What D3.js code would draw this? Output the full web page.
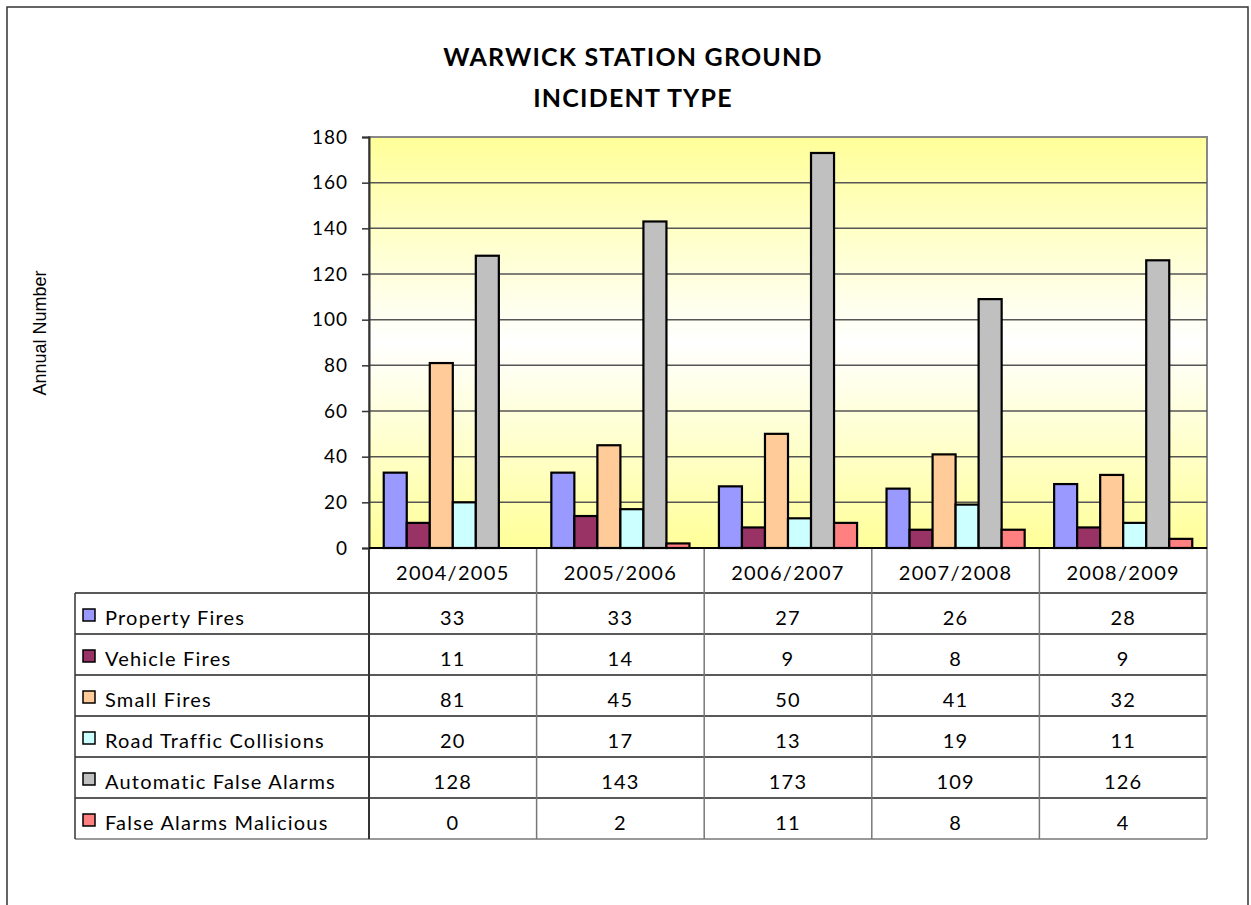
<!DOCTYPE html>
<html>
<head>
<meta charset="utf-8">
<script src="https://cdn.jsdelivr.net/npm/d3@7"></script>
<style>
  body { margin: 0; background: #fff; }
  text { font-family: Lato, "Open Sans", sans-serif; fill: #000; }
</style>
</head>
<body>
<div id="chart"></div>
<script>
var years = ["2004/2005", "2005/2006", "2006/2007", "2007/2008", "2008/2009"];
var seriesNames = ["Property Fires", "Vehicle Fires", "Small Fires", "Road Traffic Collisions", "Automatic False Alarms", "False Alarms Malicious"];
var propertyFires = [33, 33, 27, 26, 28];
var vehicleFires = [11, 14, 9, 8, 9];
var smallFires = [81, 45, 50, 41, 32];
var roadTraffic = [20, 17, 13, 19, 11];
var autoAlarms = [128, 143, 173, 109, 126];
var maliciousAlarms = [0, 2, 11, 8, 4];
var yTicks = [0, 20, 40, 60, 80, 100, 120, 140, 160, 180];
var colors = ["#9999FF", "#993366", "#FFCC99", "#CCFFFF", "#C0C0C0", "#FF8080"];

var values = [propertyFires, vehicleFires, smallFires, roadTraffic, autoAlarms, maliciousAlarms];

var W = 1251, H = 905;
var plot = { left: 369, right: 1207, top: 137, bottom: 548 };
var tableLeft = 75, headH = 45, rowH = 41;

var svg = d3.select("#chart").append("svg")
    .attr("width", W).attr("height", H);

// outer frame
svg.append("rect").attr("x", 7).attr("y", 7).attr("width", 1241).attr("height", H)
    .attr("fill", "none").attr("stroke", "#333").attr("stroke-width", 1.5);

// title
svg.append("text").attr("x", 633).attr("y", 66).attr("text-anchor", "middle")
    .style("font-weight", "bold").style("font-size", "25px").style("letter-spacing", "1.2px")
    .text("WARWICK STATION GROUND");
svg.append("text").attr("x", 633).attr("y", 107).attr("text-anchor", "middle")
    .style("font-weight", "bold").style("font-size", "25px").style("letter-spacing", "1.2px")
    .text("INCIDENT TYPE");

// gradient background
var grad = svg.append("defs").append("linearGradient").attr("id", "bg")
    .attr("x1", 0).attr("y1", 0).attr("x2", 0).attr("y2", 1);
grad.append("stop").attr("offset", "0%").attr("stop-color", "#FFFF99");
grad.append("stop").attr("offset", "50%").attr("stop-color", "#FFFFFF");
grad.append("stop").attr("offset", "100%").attr("stop-color", "#FFFF99");

svg.append("rect").attr("x", plot.left).attr("y", plot.top)
    .attr("width", plot.right - plot.left).attr("height", plot.bottom - plot.top)
    .attr("fill", "url(#bg)").attr("stroke", "#888").attr("stroke-width", 2);

var x = d3.scaleBand().domain(years).range([plot.left, plot.right]);
var xi = d3.scaleBand().domain(d3.range(seriesNames.length)).range([0, x.bandwidth()])
    .paddingOuter(0.64);
var y = d3.scaleLinear().domain([0, 180]).range([plot.bottom, plot.top]);

// gridlines
svg.append("g").selectAll("line").data(yTicks.slice(1, -1)).enter().append("line")
    .attr("x1", plot.left).attr("x2", plot.right)
    .attr("y1", function (d) { return y(d); }).attr("y2", function (d) { return y(d); })
    .attr("stroke", "#555").attr("stroke-width", 1.5);

// bars
var groups = svg.append("g").selectAll("g").data(values).enter().append("g")
    .attr("fill", function (d, i) { return colors[i]; });
groups.each(function (series, si) {
    d3.select(this).selectAll("rect").data(series).enter().append("rect")
        .attr("x", function (d, i) { return x(years[i]) + xi(si); })
        .attr("y", function (d) { return y(d); })
        .attr("width", xi.bandwidth())
        .attr("height", function (d) { return plot.bottom - y(d); })
        .attr("stroke", "#000").attr("stroke-width", 2.2)
        .style("display", function (d) { return d > 0 ? null : "none"; });
});

// y axis
var yAxis = d3.axisLeft(y).tickValues(yTicks).tickSize(7).tickPadding(14);
var ya = svg.append("g").attr("transform", "translate(" + plot.left + ",0)").call(yAxis);
ya.select(".domain").attr("stroke", "#333").attr("stroke-width", 2);
ya.selectAll(".tick line").attr("stroke", "#333").attr("stroke-width", 1.5);
ya.selectAll(".tick text").style("font-size", "19px").style("letter-spacing", "1px")
    .attr("font-family", null);

svg.append("text")
    .attr("transform", "translate(46,333) rotate(-90)")
    .attr("text-anchor", "middle")
    .style("font-family", "'Liberation Sans', Arial, sans-serif").style("font-size", "18px")
    .text("Annual Number");

// data table
var tableBottom = plot.bottom + headH + rowH * seriesNames.length;
var tbl = svg.append("g");

// horizontal lines
var hLines = d3.range(seriesNames.length + 1).map(function (i) { return plot.bottom + headH + i * rowH; });
tbl.selectAll("line.h").data(hLines).enter().append("line").attr("class", "h")
    .attr("x1", tableLeft).attr("x2", plot.right)
    .attr("y1", function (d) { return d; }).attr("y2", function (d) { return d; })
    .attr("stroke", function (d, i) { return i === seriesNames.length ? "#777" : "#222"; })
    .attr("stroke-width", 1.5);

// vertical lines
var vLines = years.map(function (d) { return x(d); }).concat([plot.right]);
tbl.selectAll("line.v").data(vLines).enter().append("line").attr("class", "v")
    .attr("x1", function (d) { return d; }).attr("x2", function (d) { return d; })
    .attr("y1", plot.bottom).attr("y2", tableBottom)
    .attr("stroke", function (d, i) { return i === 0 ? "#333" : "#777"; })
    .attr("stroke-width", function (d, i) { return i === 0 ? 2 : 1.5; });
tbl.append("line").attr("x1", tableLeft).attr("x2", tableLeft)
    .attr("y1", plot.bottom + headH).attr("y2", tableBottom)
    .attr("stroke", "#333").attr("stroke-width", 1.5);

// baseline
svg.append("line").attr("x1", plot.left).attr("x2", plot.right)
    .attr("y1", plot.bottom).attr("y2", plot.bottom)
    .attr("stroke", "#000").attr("stroke-width", 2);

// header labels
tbl.selectAll("text.year").data(years).enter().append("text").attr("class", "year")
    .attr("x", function (d) { return x(d) + x.bandwidth() / 2; })
    .attr("y", plot.bottom + 32)
    .attr("text-anchor", "middle")
    .style("font-size", "20px").style("letter-spacing", "1.3px")
    .text(function (d) { return d; });

// row labels + legend keys
var rows = tbl.selectAll("g.row").data(seriesNames).enter().append("g").attr("class", "row")
    .attr("transform", function (d, i) { return "translate(0," + (plot.bottom + headH + i * rowH) + ")"; });
rows.append("rect").attr("x", 83).attr("y", 16).attr("width", 12).attr("height", 12)
    .attr("fill", function (d, i) { return colors[i]; })
    .attr("stroke", "#000").attr("stroke-width", 1.5);
rows.append("text").attr("x", 105).attr("y", 32)
    .style("font-size", "20px").style("letter-spacing", "1.2px")
    .text(function (d) { return d; });
rows.each(function (name, si) {
    d3.select(this).selectAll("text.val").data(values[si]).enter().append("text").attr("class", "val")
        .attr("x", function (d, i) { return x(years[i]) + x.bandwidth() / 2; })
        .attr("y", 32)
        .attr("text-anchor", "middle")
        .style("font-size", "20px").style("letter-spacing", "1.2px")
        .text(function (d) { return d; });
});
</script>
</body>
</html>
